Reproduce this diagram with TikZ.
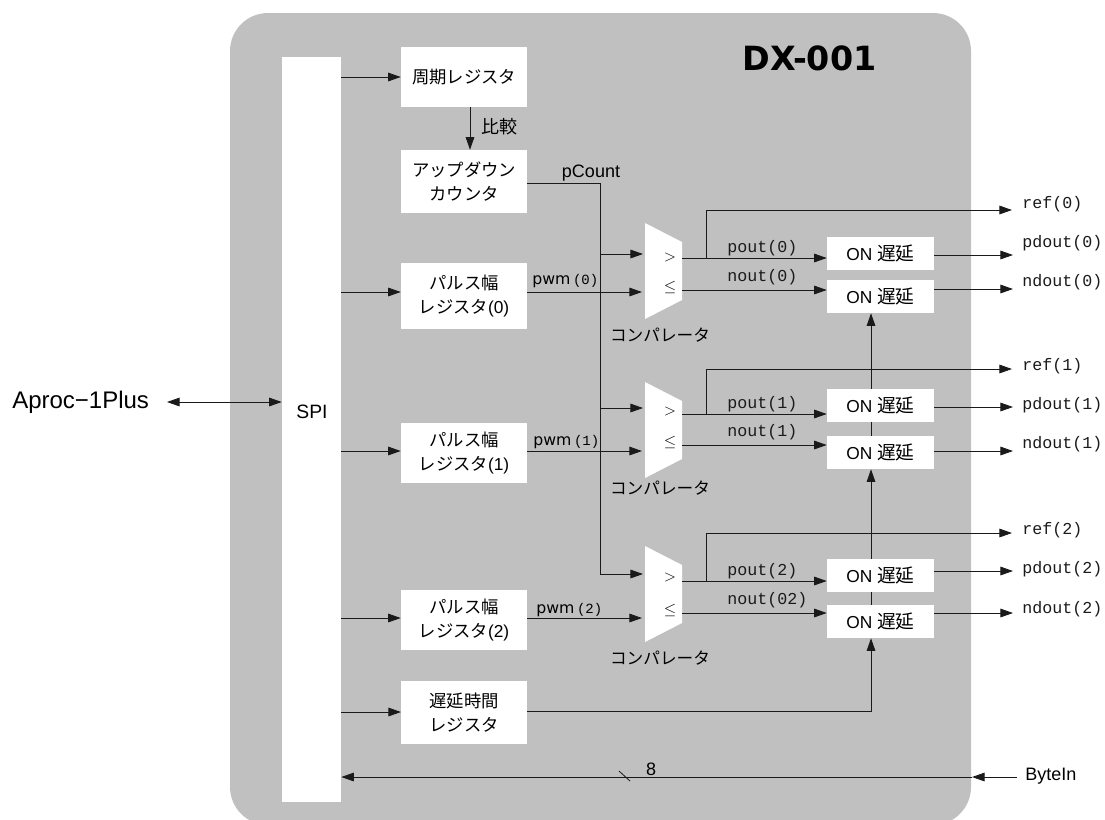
\documentclass[tikz,border=0pt]{standalone}
\usepackage{fontspec}
\setmainfont{Liberation Sans}
\setmonofont{Liberation Mono}
\newfontfamily\jpfont{Noto Sans CJK JP}
\newfontfamily\dvfont{DejaVu Sans}
\usetikzlibrary{arrows.meta}
\definecolor{PanelGray}{HTML}{C0C0C0}
\definecolor{WireDark}{HTML}{1A1A1A}
\tikzset{
  regbox/.style={fill=white,inner sep=0pt,minimum width=94.5pt,align=center,
    font=\fontsize{13}{18}\selectfont\jpfont},
  onbox/.style={fill=white,inner sep=0pt,minimum width=80.25pt,minimum height=24.75pt,
    font=\fontsize{13}{16}\selectfont},
  sigtext/.style={font=\fontsize{12.5}{14}\selectfont\ttfamily,text=WireDark},
  sanstext/.style={font=\fontsize{13.5}{16}\selectfont},
  jptext/.style={font=\fontsize{12.5}{16}\selectfont\jpfont},
  wire/.style={draw=WireDark,line width=0.7pt},
  sig/.style={wire,-{Triangle[length=9.5pt,width=6.5pt]}},
}
\begin{document}
\begin{tikzpicture}[x=0.75pt,y=-0.75pt]
  \useasboundingbox (0,0) rectangle (1105,819);
  \fill[PanelGray,rounded corners=28.5pt] (230,13) rectangle (971,825);

  \node[font=\fontsize{25}{28}\selectfont\dvfont\bfseries] (title) at (809.5,58) {DX-001};
  \node[font=\fontsize{18}{20}\selectfont,anchor=west,inner sep=0pt] (aproc) at (12,402) {Aproc−1Plus};
  \coordinate (aprocend) at (167,402);

  \node[fill=white,inner sep=0pt,minimum width=44.25pt,minimum height=558.75pt] (spi) at (311.5,429.5) {};
  \node[font=\fontsize{14.5}{16}\selectfont] (spilabel) at (312,412) {SPI};

  \node[regbox,minimum height=45pt] (period) at (464,77) {周期レジスタ};
  \node[regbox,minimum height=47.25pt] (updown) at (464,181.5) {アップダウン\\カウンタ};
  \node[regbox,minimum height=47.25pt] (delayreg) at (464,712.5) {遅延時間\\レジスタ};
  \foreach \i/\yw/\hw in {0/296/49.5,1/453/45,2/620/45}
    \node[regbox,minimum height=\hw pt] (pw\i) at (464,\yw) {パルス幅\\レジスタ\textrm{(\i)}};

  \foreach \i/\yop/\yon in {0/253.5/296.5,1/405.5/452.5,2/575.5/621.5} {
    \node[onbox] (on\i p) at (880.5,\yop) {ON {\jpfont\fontsize{14}{16}\selectfont 遅延}};
    \node[onbox] (on\i n) at (880.5,\yon) {ON {\jpfont\fontsize{14}{16}\selectfont 遅延}};
  }

  % comparator rows
  \foreach \i/\yc/\ya/\yb/\yp/\yn/\yr/\yt/\yw/\xw/\nn in
    {0/271/254/292/258/290/210/335/281/532/0,
     1/430/408/451/414/445/369/488/442/533/1,
     2/594/574/618/581/613/533/658/610/536/02} {
    \fill[white] (645,\yc-48) -- (682,\yc-29) -- (682,\yc+29) -- (645,\yc+48) -- cycle;
    \node[font=\fontsize{12}{14}\selectfont] (gt\i) at (670,\ya+3) {$>$};
    \node[font=\fontsize{12}{14}\selectfont] (le\i) at (670,\yn-3) {$\leq$};
    \node[jptext] (cmpname\i) at (660,\yt) {コンパレータ};
    \coordinate (ina\i) at (643,\ya);
    \coordinate (inb\i) at (642,\yb);
    \coordinate (outp\i) at (682,\yp);
    \coordinate (outn\i) at (682,\yn);
    \coordinate (refturn\i) at (706,\yr);
    \coordinate (refend\i) at (1012,\yr);
    \draw[sig] (spi.east |- inb\i) -- (pw\i.west |- inb\i);
    \draw[sig] (pw\i.east |- inb\i) -- (inb\i);
    \draw[sig] (outp\i) -- (on\i p.west |- outp\i);
    \draw[sig] (outn\i) -- (on\i n.west |- outn\i);
    \draw[sig] (refturn\i |- outp\i) -- (refturn\i) -- (refend\i);
    \node[anchor=west,inner sep=0pt] (pwmlabel\i) at (\xw,\yw)
      {\fontsize{11.8}{14}\selectfont\dvfont pwm\,\fontsize{10.5}{14}\selectfont\ttfamily(\i)};
    \node[sigtext,anchor=west,inner sep=0pt] (poutlabel\i) at (727,\yp-10) {pout(\i)};
    \node[sigtext,anchor=west,inner sep=0pt] (noutlabel\i) at (727,\yn-13) {nout(\nn)};
  }

  \foreach \i/\ypd/\ynd/\lr/\lp/\lq in
    {0/255/289/204/243/282,1/407/451/366/405/444,2/571/613/530/569/609} {
    \coordinate (pdend\i) at (1013,\ypd);
    \coordinate (ndend\i) at (1013,\ynd);
    \draw[sig] (on\i p.east |- pdend\i) -- (pdend\i);
    \draw[sig] (on\i n.east |- ndend\i) -- (ndend\i);
    \node[sigtext,anchor=west,inner sep=0pt] (reflabel\i) at (1022,\lr) {ref(\i)};
    \node[sigtext,anchor=west,inner sep=0pt] (pdlabel\i) at (1022,\lp) {pdout(\i)};
    \node[sigtext,anchor=west,inner sep=0pt] (ndlabel\i) at (1022,\lq) {ndout(\i)};
  }

  \draw[wire,{Triangle[length=9.5pt,width=6.5pt]}-{Triangle[length=9.5pt,width=6.5pt]}]
    (aprocend) -- (spi.west |- aprocend);
  \draw[sig] (spi.east |- period.west) -- (period.west);
  \coordinate (cmpline) at (470,127);
  \draw[sig] (period.south -| cmpline) -- (updown.north -| cmpline);
  \node[font=\fontsize{13.5}{16}\selectfont\jpfont] (cmplabel) at (499,127) {比較};

  \coordinate (cntbus) at (600,183);
  \draw[wire] (updown.east |- cntbus) -- (cntbus);
  \draw[sig] (cntbus) |- (ina2);
  \draw[sig] (cntbus |- ina0) -- (ina0);
  \draw[sig] (cntbus |- ina1) -- (ina1);
  \node[sanstext] (pcount) at (591,173) {pCount};

  \coordinate (dlyin) at (401,712);
  \coordinate (dlyturn) at (871,711);
  \draw[sig] (spi.east |- dlyin) -- (dlyin);
  \draw[sig] (delayreg.east |- dlyturn) -- (dlyturn) -- (dlyturn |- on2n.south);
  \draw[wire] (dlyturn |- on2n.north) -- (dlyturn |- on2p.south);
  \draw[sig] (dlyturn |- on2p.north) -- (dlyturn |- on1n.south);
  \draw[wire] (dlyturn |- on1n.north) -- (dlyturn |- on1p.south);
  \draw[sig] (dlyturn |- on1p.north) -- (dlyturn |- on0n.south);

  \coordinate (bytestart) at (1017,777);
  \coordinate (byteedge) at (972,777);
  \draw[sig] (bytestart) -- (byteedge);
  \draw[sig] (byteedge) -- (spi.east |- byteedge);
  \draw[wire,line width=0.6pt] (619,771) -- (630,781);
  \node[sanstext] (buswidth) at (651,769) {8};
  \node[sanstext,anchor=west,inner sep=0pt] (bytein) at (1025,776) {ByteIn};
\end{tikzpicture}
\end{document}
